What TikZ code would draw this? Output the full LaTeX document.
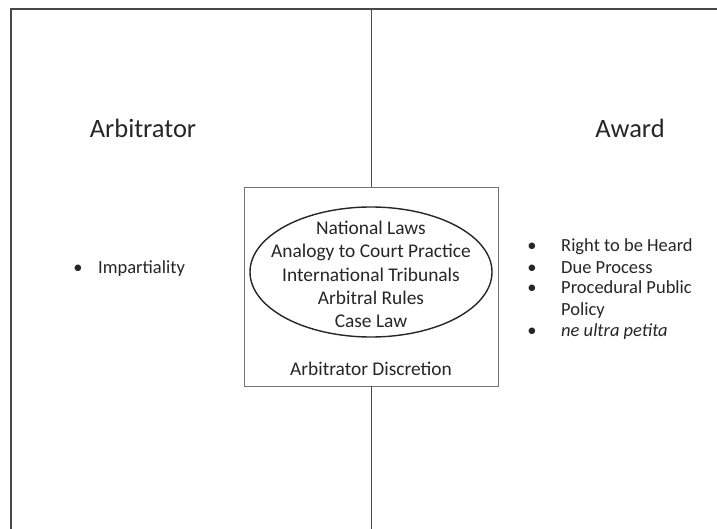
\documentclass[tikz,border=0pt]{standalone}
\usepackage{fontspec}
\setmainfont{Carlito}
\usetikzlibrary{shapes.geometric}
\begin{document}
\begin{tikzpicture}[x=1pt,y=-1pt,
  frame/.style={line width=2pt, draw=black!72},
  divider/.style={line width=1pt, draw=black!70},
  discbox/.style={draw=black!55, line width=0.9pt, minimum width=254pt, minimum height=199pt, inner sep=0pt},
  oval/.style={ellipse, draw=black!85, line width=1.4pt, minimum width=242pt, minimum height=130pt, inner sep=0pt},
  body/.style={font=\fontsize{19.4}{23.3}\selectfont, text=black!85},
  side/.style={font=\fontsize{18.5}{21}\selectfont, text=black!85},
  title/.style={font=\fontsize{26.5}{32}\selectfont, text=black!85},
  txt/.style={side, anchor=west, inner sep=0pt, text height=12pt, text depth=4pt},
  bul/.style={side, inner sep=0pt, text height=12pt, text depth=4pt}]
\useasboundingbox (0,0) rectangle (717,529);
\fill[white] (0,0) rectangle (717,529);
% outer frame
\coordinate (fbl) at (11,529);
\coordinate (ftl) at (11,9);
\coordinate (ftr) at (717,9);
\draw[frame] (fbl) -- (ftl) -- (ftr);
% central box
\node[discbox] (box) at (371,286.5) {};
\coordinate (dtop) at (371,9);
\coordinate (dbot) at (371,529);
\draw[divider] (dtop) -- (box.north);
\draw[divider] (box.south) -- (dbot);
% ellipse
\node[oval] (ell) at (371,272) {};
\node[body, align=center, inner sep=0pt] (elltext) at (371,274.5) {National Laws\\Analogy to Court Practice\\International Tribunals\\Arbitral Rules\\Case Law};
\node[body] (disc) at (371,369) {Arbitrator Discretion};
% titles
\node[title] (arb) at (143,128) {Arbitrator};
\node[title] (awd) at (630,128) {Award};
% left bullets
\node[bul] (lb1) at (78,269) {•};
\node[txt] (lt1) at (98,269) {Impartiality};
% right bullets
\node[bul] (rb1) at (532,248) {•};
\node[txt] (rt1) at (561,248) {Right to be Heard};
\node[bul] (rb2) at (532,269) {•};
\node[txt] (rt2) at (561,269) {Due Process};
\node[bul] (rb3) at (532,290) {•};
\node[txt] (rt3) at (561,290) {Procedural Public};
\node[txt] (rt3b) at (561,311) {Policy};
\node[bul] (rb4) at (532,332) {•};
\node[txt] (rt4) at (561,332) {\itshape ne ultra petita};
\end{tikzpicture}
\end{document}
